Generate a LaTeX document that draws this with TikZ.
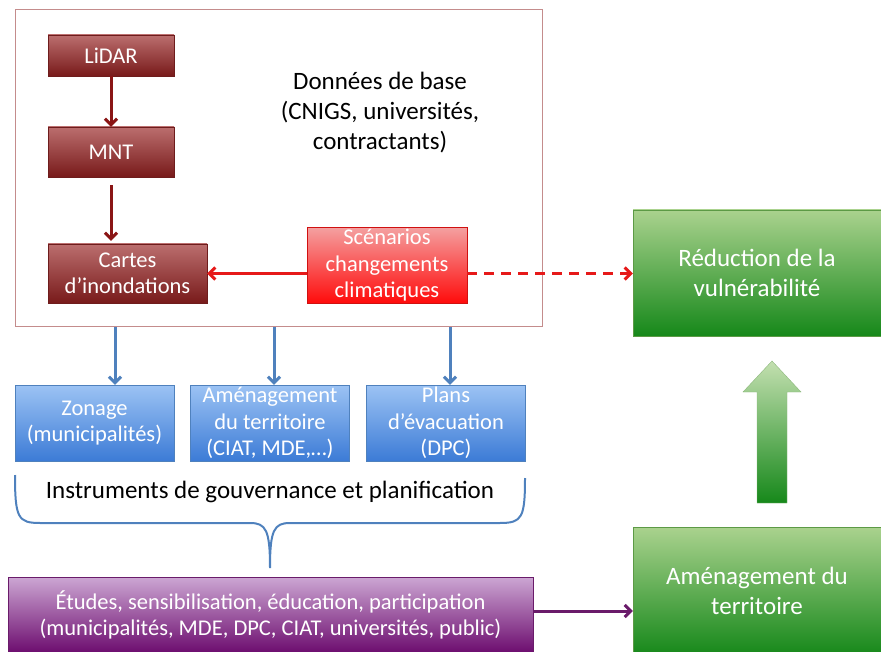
\documentclass[tikz,border=0pt]{standalone}
\usepackage{fontspec}
\setmainfont{Carlito}
\usetikzlibrary{arrows.meta}

\definecolor{framecol}{HTML}{C48C8C}
\definecolor{darkredtop}{HTML}{BB6E6E}
\definecolor{darkredbot}{HTML}{781A1A}
\definecolor{darkredline}{HTML}{6E1C1C}
\definecolor{darkarrow}{HTML}{8A1515}
\definecolor{redtop}{HTML}{F4A0A0}
\definecolor{redbot}{HTML}{FF0A0A}
\definecolor{redline}{HTML}{D01010}
\definecolor{redarrow}{HTML}{E61919}
\definecolor{bluetop}{HTML}{9CC3F4}
\definecolor{bluebot}{HTML}{3C7BD6}
\definecolor{blueline}{HTML}{4F81BD}
\definecolor{greentop}{HTML}{AAD28E}
\definecolor{greenbot}{HTML}{16881A}
\definecolor{greenline}{HTML}{5C9A45}
\definecolor{purpletop}{HTML}{CCA6D3}
\definecolor{purplebot}{HTML}{6C0C6E}
\definecolor{purpleline}{HTML}{6A1B6A}

\begin{document}
\begin{tikzpicture}
[x=1pt,y=-1pt,
 boxdecorate/.style={shape=rectangle,draw,thin,align=center,text=white,inner sep=2pt,
   font=\fontsize{22.5}{26.5}\selectfont},
 darkbox/.style={boxdecorate,draw=darkredline,top color=darkredtop,bottom color=darkredbot},
 redbox/.style={boxdecorate,draw=redline,top color=redtop,bottom color=redbot},
 bluebox/.style={boxdecorate,draw=blueline,top color=bluetop,bottom color=bluebot,
   minimum width=159pt,minimum height=76pt},
 greenbox/.style={boxdecorate,draw=greenline,top color=greentop,bottom color=greenbot,
   minimum width=248pt,font=\fontsize{25}{30}\selectfont},
 purplebox/.style={boxdecorate,draw=purpleline,top color=purpletop,bottom color=purplebot},
 labeldecorate/.style={align=center,font=\fontsize{25}{30}\selectfont},
 linedecorate/.style={-{Straight Barb[length=6pt,width=12pt]},line width=3pt}]
\useasboundingbox (0,0) rectangle (881,652);
%% frame of the base data
\node (base) at (278.5,168.5) [draw=framecol,line width=1pt,minimum width=527pt,minimum height=317pt] {};
\node (donnees) at (380,113) [labeldecorate] {Données de base\\(CNIGS, universités,\\contractants)};
%% red boxes
\node (lidar) at (111,55.5) [darkbox,minimum width=126pt,minimum height=41pt] {LiDAR};
\node (mnt) at (111,152) [darkbox,minimum width=126pt,minimum height=50pt] {MNT};
\node (cartes) at (127.5,273.5) [darkbox,minimum width=159pt,minimum height=59pt] {Cartes\\d’inondations};
\node (scen) at (387,265.5) [redbox,minimum width=160pt,minimum height=75pt] {Scénarios\\changements\\climatiques};
%% instruments
\foreach \nodename/\x/\ax/\txt in {zonage/94.5/115/{Zonage\\(municipalités)},
    amenag/270/274/{Aménagement\\du territoire\\(CIAT, MDE,…)},
    plans/446/450/{Plans\\d’évacuation\\(DPC)}} {
  \node (\nodename) at (\x,423) [bluebox] {\txt};
  \draw[linedecorate,color=blueline] (base.south -| \ax,0) -- (\nodename.north -| \ax,0);
}
\node (instr) at (270,492) [labeldecorate] {Instruments de gouvernance et planification};
%% brace
\draw[blueline,line width=2pt]
  (15,475) .. controls (15,518) and (18,523) .. (40,523) -- (250,523)
  .. controls (266,523) and (270,530) .. (270,568)
  .. controls (270,530) and (274,523) .. (290,523) -- (500,523)
  .. controls (522,523) and (525,518) .. (525,478);
\node (etudes) at (270.5,615) [purplebox,minimum width=525pt,minimum height=76pt]
  {Études, sensibilisation, éducation, participation\\(municipalités, MDE, DPC, CIAT, universités, public)};
%% green boxes
\node (reduc) at (757,273) [greenbox,minimum height=126pt] {Réduction de la\\vulnérabilité};
\node (amterr) at (757,591) [greenbox,minimum height=128pt] {Aménagement du\\territoire};
\shade[top color=greentop!70!white,bottom color=greenbot,draw=greenline!70!white]
  (757,503) -- (757,392) -- (743,392) -- (772,361) -- (801,392) -- (787,392) -- (787,503) -- cycle;
%% edges
\draw[linedecorate,color=darkarrow] (lidar) -- (mnt);
\draw[linedecorate,color=darkarrow,shorten <=8pt,shorten >=3pt] (mnt) -- (cartes.north -| mnt);
\draw[linedecorate,color=redarrow] (scen.west |- cartes.east) -- (cartes.east);
\draw[linedecorate,color=redarrow,dashed,dash pattern=on 10pt off 7pt] (scen.east |- cartes.east) -- (reduc.west |- cartes.east);
\draw[linedecorate,color=purpleline] (etudes.east |- 0,611) -- (amterr.west |- 0,611);
\end{tikzpicture}
\end{document}
